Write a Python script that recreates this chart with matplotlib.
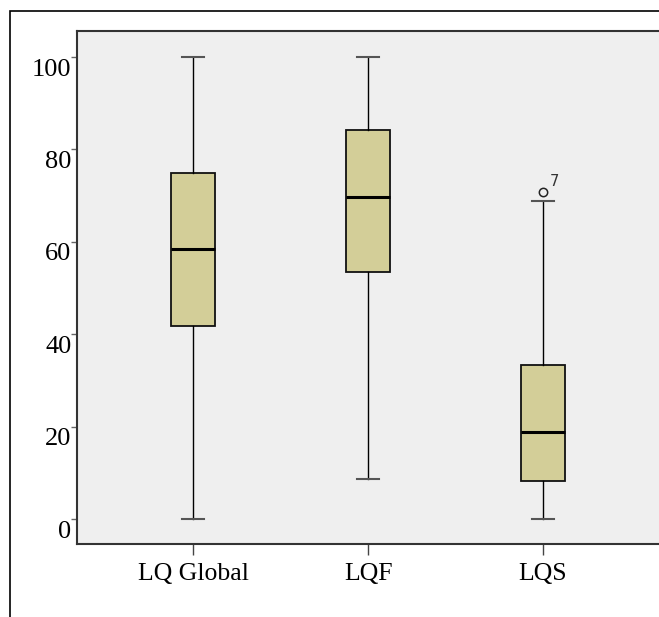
import matplotlib
matplotlib.use("Agg")
import matplotlib.pyplot as plt
import matplotlib.transforms as mtransforms
from matplotlib.patches import Rectangle

# --- Datos ---
grupos = ["LQ Global", "LQF", "LQS"]
minimos = [0, 8.7, 0]
q1 = [41.8, 53.5, 8.3]
medianas = [58.4, 69.7, 18.8]
q3 = [75.0, 84.2, 33.4]
maximos = [100, 100, 68.8]
atipicos = [[], [], [70.8]]
etiquetas_atipicos = [[], [], ["7"]]
yticks = [0, 20, 40, 60, 80, 100]

plt.rcParams["font.family"] = ["Liberation Serif", "DejaVu Serif"]

W, H = 659, 617
fig = plt.figure(figsize=(W / 100, H / 100), dpi=100)

# marco exterior
fig.patches.append(Rectangle((10 / W, -0.1), 1.2, 1 - 11 / H + 0.1,
                             transform=fig.transFigure, fill=False,
                             edgecolor="black", linewidth=1.2))

ax = fig.add_axes([77 / W, (H - 544) / H, (W * 1.01 - 77) / W, (544 - 31) / H])
ax.set_facecolor("#efefef")

stats = []
for i in range(len(grupos)):
    stats.append({
        "label": grupos[i],
        "whislo": minimos[i],
        "q1": q1[i],
        "med": medianas[i],
        "q3": q3[i],
        "whishi": maximos[i],
        "fliers": atipicos[i],
    })

pos = [1, 2, 3]
ax.bxp(stats, positions=pos, widths=0.25, capwidths=0.126, patch_artist=True,
       showfliers=True,
       boxprops=dict(facecolor="#d3ce98", edgecolor="#111111", linewidth=1.3),
       medianprops=dict(color="black", linewidth=2.2),
       whiskerprops=dict(color="#000000", linewidth=1.0),
       capprops=dict(color="#555555", linewidth=1.5),
       flierprops=dict(marker="o", markersize=6, markerfacecolor="none",
                       markeredgecolor="#222222", markeredgewidth=1.1))

for i in range(len(grupos)):
    for v, t in zip(atipicos[i], etiquetas_atipicos[i]):
        ax.annotate(t, (pos[i], v), xytext=(5, 4), textcoords="offset points",
                    fontsize=10.5, family="DejaVu Sans", color="#333333")

ax.set_xlim(0.337, 3.70)
ax.set_ylim(-5.41, 105.63)

for s in ax.spines.values():
    s.set_color("#333333")
    s.set_linewidth(1.5)

ax.set_yticks(yticks)
ax.set_yticklabels([str(v) for v in yticks])
ax.tick_params(axis="y", length=4, width=1, color="#666666", pad=0, labelsize=19)
off = mtransforms.ScaledTranslation(0, -10 / 100, fig.dpi_scale_trans)
for lab in ax.get_yticklabels():
    lab.set_transform(lab.get_transform() + off)

ax.set_xticks(pos)
ax.set_xticklabels(grupos)
ax.tick_params(axis="x", length=8, width=1, color="#444444", pad=6, labelsize=18.5)

fig.savefig("out.png", dpi=100)
